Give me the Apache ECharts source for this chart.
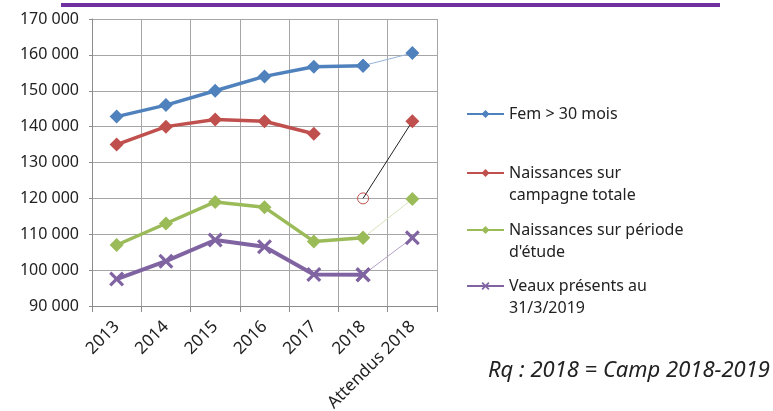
<!DOCTYPE html>
<html>
<head>
<meta charset="utf-8">
<script src="https://cdn.jsdelivr.net/npm/echarts@6/dist/echarts.min.js"></script>
<style>html,body{margin:0;padding:0;background:#fff}#c{width:773px;height:411px}</style>
</head>
<body>
<div id="c"></div>
<script>
const categories = ['2013','2014','2015','2016','2017','2018','Attendus 2018'];
const femValues = [142800, 146000, 150000, 154000, 156700, 157000, 160500];
const naissTotalValues = [135000, 140000, 142000, 141500, 138000, 120000, 141500];
const naissEtudeValues = [107000, 113000, 119000, 117500, 108000, 109000, 119800];
const veauxValues = [97500, 102500, 108400, 106500, 98800, 98700, 109000];
const seriesNames = ['Fem > 30 mois', 'Naissances sur\ncampagne totale', 'Naissances sur période\nd\'étude', 'Veaux présents au\n31/3/2019'];
const yTicks = {min: 90000, max: 170000, interval: 10000};
const noteText = 'Rq : 2018 = Camp 2018-2019';

const FONT = 'Noto Sans';
const C = {blue:'#4f81bd', red:'#c0504d', green:'#9bbb59', purple:'#8064a2'};
const xSym = 'path://M0,1.5L1.5,0L5,3.5L8.5,0L10,1.5L6.5,5L10,8.5L8.5,10L5,6.5L1.5,10L0,8.5L3.5,5Z';

function mainPart(arr, upto) { return arr.map((v,i)=> i<=upto ? v : null); }
function extPart(arr, from) { return arr.map((v,i)=> i>=from ? v : null); }

const chart = echarts.init(document.getElementById('c'), null, {renderer:'canvas'});

function legendAt(name, top, twoLines) {
  return {
    data:[name], left:466, top:top, orient:'vertical', padding:0,
    itemWidth:37, itemHeight:10, itemGap:0,
    formatter: n => twoLines ? '\n' + n : n,
    textStyle:{fontFamily:FONT, fontSize:16, color:'#222', lineHeight:22}
  };
}

chart.setOption({
  animation:false,
  grid:{left:92, right:336, top:19, bottom:105, containLabel:false, outerBoundsMode:'none'},
  legend:[
    legendAt(seriesNames[0], 103, false),
    legendAt(seriesNames[1], 140, true),
    legendAt(seriesNames[2], 197, true),
    legendAt(seriesNames[3], 253, true)
  ],
  graphic:[
    {type:'rect', left:61, top:3, shape:{width:659, height:4}, style:{fill:'#7030a0'}},
    {type:'text', left:488, top:360, style:{text:noteText, font:'italic 22px "Noto Sans"', fill:'#222'}}
  ],
  xAxis:{
    type:'category', data:categories, boundaryGap:true,
    axisLine:{lineStyle:{color:'#8c8c8c', width:1}},
    axisTick:{show:true, length:6, lineStyle:{color:'#8c8c8c'}},
    splitLine:{show:true, lineStyle:{color:'#a6a6a6', width:1}},
    axisLabel:{rotate:45, fontFamily:FONT, fontSize:17, color:'#222', margin:18, interval:0}
  },
  yAxis:{
    type:'value', min:yTicks.min, max:yTicks.max, interval:yTicks.interval,
    axisLine:{show:true, lineStyle:{color:'#8c8c8c'}},
    axisTick:{show:true, length:3, lineStyle:{color:'#8c8c8c'}},
    splitLine:{show:true, lineStyle:{color:'#a6a6a6', width:1}},
    axisLabel:{fontFamily:FONT, fontSize:16, color:'#222', margin:13,
      formatter:v=>String(v).replace(/\B(?=(\d{3})+(?!\d))/g,' ')}
  },
  series:[
    {name:seriesNames[0], type:'line', data:mainPart(femValues,5), color:C.blue,
     lineStyle:{width:3.5, color:C.blue}, symbol:'diamond', symbolSize:14, itemStyle:{color:C.blue}},
    {name:'ext0', type:'line', data:extPart(femValues,5), lineStyle:{width:1, color:'#95b3d7'},
     symbol:'diamond', symbolSize:14, itemStyle:{color:C.blue}, z:1},
    {name:seriesNames[1], type:'line', data:mainPart(naissTotalValues,4), color:C.red,
     lineStyle:{width:3.5, color:C.red}, symbol:'diamond', symbolSize:14, itemStyle:{color:C.red}},
    {name:'ext1', type:'line', lineStyle:{width:1, color:'#222'}, z:1,
     data:extPart(naissTotalValues,5).map((v,i)=> v===null ? null :
       (i===5 ? {value:v, symbol:'circle', symbolSize:11, itemStyle:{color:'rgba(255,255,255,0)', borderColor:C.red, borderWidth:1}}
              : {value:v, symbol:'diamond', symbolSize:14, itemStyle:{color:C.red}}))},
    {name:seriesNames[2], type:'line', data:mainPart(naissEtudeValues,5), color:C.green,
     lineStyle:{width:3.5, color:C.green}, symbol:'diamond', symbolSize:14, itemStyle:{color:C.green}},
    {name:'ext2', type:'line', data:extPart(naissEtudeValues,5), lineStyle:{width:1, color:'#d7e4bd'},
     symbol:'diamond', symbolSize:14, itemStyle:{color:C.green}, z:1},
    {name:seriesNames[3], type:'line', data:mainPart(veauxValues,5), color:C.purple,
     lineStyle:{width:4, color:C.purple}, symbol:xSym, symbolSize:15, itemStyle:{color:C.purple}},
    {name:'ext3', type:'line', data:extPart(veauxValues,5), lineStyle:{width:1, color:'#b3a2c7'},
     symbol:xSym, symbolSize:15, itemStyle:{color:C.purple}, z:1}
  ]
});
</script>
</body>
</html>
